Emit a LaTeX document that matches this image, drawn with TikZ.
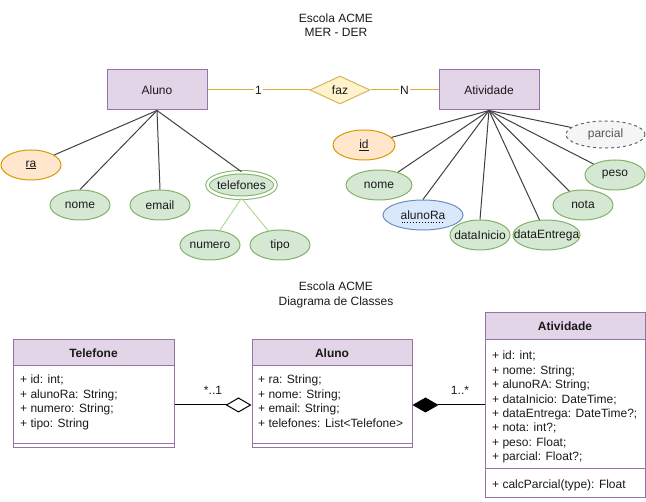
\documentclass[tikz,border=0pt]{standalone}
\usepackage{fontspec}
\setmainfont{Liberation Sans}
\usetikzlibrary{shapes.geometric,calc,arrows.meta}
\definecolor{purpF}{HTML}{E1D5E7}
\definecolor{purpS}{HTML}{9673A6}
\definecolor{yelF}{HTML}{FFF2CC}
\definecolor{yelS}{HTML}{D6B656}
\definecolor{orF}{HTML}{FFE6CC}
\definecolor{orS}{HTML}{D79B00}
\definecolor{grF}{HTML}{D5E8D4}
\definecolor{grS}{HTML}{82B366}
\definecolor{blF}{HTML}{DAE8FC}
\definecolor{blS}{HTML}{6C8EBF}
\definecolor{gyF}{HTML}{F5F5F5}
\definecolor{gyS}{HTML}{666666}
\definecolor{gyT}{HTML}{555555}
\definecolor{lineC}{HTML}{404040}
\definecolor{relC}{HTML}{DDAA3A}
\definecolor{lgC}{HTML}{B0D89A}
\definecolor{txtC}{HTML}{1A1A1A}
\newcommand{\ztext}[1]{\makebox[0pt][c]{#1}}
\begin{document}
\begin{tikzpicture}[x=1pt,y=-1pt,
  font=\fontsize{12}{14.4}\selectfont, text=txtC,
  ent/.style={rectangle, draw=purpS, fill=purpF, line width=1pt, inner sep=0pt,
    minimum width=100pt, minimum height=40pt},
  rel/.style={diamond, draw=yelS, fill=yelF, line width=1pt, inner sep=0pt,
    minimum width=60pt, minimum height=28pt},
  attr/.style={ellipse, draw=grS, fill=grF, line width=1pt, inner sep=0pt,
    minimum width=60pt, minimum height=30pt},
  keyattr/.style={attr, draw=orS, fill=orF},
  fkattr/.style={attr, draw=blS, fill=blF},
  derattr/.style={attr, draw=gyS, fill=gyF, dashed, text=gyT},
  conn/.style={draw=lineC, line width=1pt},
  lconn/.style={draw=lgC, line width=1pt},
  rconn/.style={draw=relC, line width=1pt},
  elab/.style={fill=white, inner sep=1pt},
  hdr/.style={rectangle, draw=purpS, fill=purpF, line width=1pt, inner sep=0pt,
    font=\fontsize{12}{14.4}\selectfont\bfseries},
  cbody/.style={rectangle, draw=purpS, fill=white, line width=1pt, inner sep=0pt},
  atxt/.style={anchor=north west, align=left, inner sep=0pt},
  uml/.style={draw=black, line width=1pt}
]
\useasboundingbox (0,0) rectangle (646,502);

% ---------- Titles ----------
\node[align=center] (t1) at (336,25) {Escola ACME\\MER - DER};
\node[align=center] (t2) at (336,295) {Escola ACME\\Diagrama de Classes};

% ---------- ER diagram ----------
\node[ent] (aluno) at (157,90) {Aluno};
\node[rel] (faz) at (340,90) {\ztext{faz}};
\node[ent] (ativ) at (489,90) {Atividade};

\draw[rconn] (aluno.east) -- node[elab] {1} (faz.west);
\draw[rconn] (faz.east) -- node[elab] {N} (ativ.west);

\node[keyattr] (ra) at (31,165) {\ztext{\underline{ra}}};
\node[attr] (nome) at (80,205) {\ztext{nome}};
\node[attr] (email) at (160,205) {\ztext{email}};
\node[attr, double, double distance=2.5pt, minimum width=68pt, minimum height=25.5pt] (tel) at (241.5,185) {\ztext{telefones}};
\node[attr] (numero) at (210,245) {\ztext{numero}};
\node[attr] (tipo) at (280,245) {\ztext{tipo}};

\coordinate (alB) at (aluno.south);
\draw[conn] (alB) -- (ra);
\draw[conn] (alB) -- (nome.north);
\draw[conn] (alB) -- (email.north);
\draw[conn] (alB) -- (tel.north);
\draw[lconn] (tel.south) -- (numero);
\draw[lconn] (tel.south) -- (tipo);

\node[keyattr, minimum width=62pt] (id) at (364,145) {\ztext{\underline{id}}};
\node[derattr, minimum width=79pt, minimum height=27pt] (parcial) at (605.5,134.5) {\ztext{parcial}};
\node[attr, minimum width=66pt] (nome2) at (379,185) {\ztext{nome}};
\node[attr] (peso) at (615,175) {\ztext{peso}};
\node[fkattr, minimum width=80pt] (alunoRa) at (423,215) {\ztext{alunoRa}};
\draw[dotted, line width=0.9pt] ($(alunoRa.center)+(-21.5,7.5)$) -- ($(alunoRa.center)+(21.5,7.5)$);
\node[attr] (nota) at (583,205) {\ztext{nota}};
\node[attr] (dataInicio) at (480,235) {\ztext{dataInicio}};
\node[attr, minimum width=67pt] (dataEntrega) at (546.5,235) {\ztext{dataEntrega}};

\coordinate (atB) at (ativ.south);
\draw[conn] (atB) -- (id);
\draw[conn] (atB) -- (parcial);
\draw[conn] (atB) -- (nome2);
\draw[conn] (atB) -- (peso);
\draw[conn] (atB) -- (alunoRa.north);
\draw[conn] (atB) -- (nota);
\draw[conn] (atB) -- (dataInicio.north);
\draw[conn] (atB) -- (dataEntrega);

% ---------- Class diagram ----------
% Telefone
\node[cbody, minimum width=161pt, minimum height=78pt] (telB) at (93.5,405) {};
\node[cbody, minimum width=161pt, minimum height=4pt] (telM) at (93.5,446) {};
\node[hdr, minimum width=161pt, minimum height=26pt] (telH) at (93.5,353) {Telefone};
\node[atxt] (telT) at (20,375) {+ id: int;\\+ alunoRa: String;\\+ numero: String;\\+ tipo: String};

% Aluno
\node[cbody, minimum width=160pt, minimum height=78pt] (aluB) at (332,405) {};
\node[cbody, minimum width=160pt, minimum height=4pt] (aluM) at (332,446) {};
\node[hdr, minimum width=160pt, minimum height=26pt] (aluH) at (332,353) {Aluno};
\node[atxt] (aluT) at (258,375) {+ ra: String;\\+ nome: String;\\+ email: String;\\+ telefones: List<Telefone>};

% Atividade
\node[cbody, minimum width=160pt, minimum height=129pt] (atvB) at (565,404.5) {};
\node[cbody, minimum width=160pt, minimum height=29pt] (atvM) at (565,483.5) {};
\node[hdr, minimum width=160pt, minimum height=27pt] (atvH) at (565,326.5) {Atividade};
\node[atxt] (atvT) at (492,351) {+ id: int;\\+ nome: String;\\+ alunoRA: String;\\+ dataInicio: DateTime;\\+ dataEntrega: DateTime?;\\+ nota: int?;\\+ peso: Float;\\+ parcial: Float?;};
\node[atxt] (atvMT) at (492,480) {+ calcParcial(type): Float};

% Associations
\draw[uml, -{Diamond[open, length=26pt, width=15pt]}] (telB.east) -- (aluB.west);
\node (m1) at (213,390) {*..1};
\draw[uml, {Diamond[length=26pt, width=15pt]}-] (aluB.east) -- (aluB.east -| atvB.west);
\node (m2) at (460,390) {1..*};
\end{tikzpicture}
\end{document}
